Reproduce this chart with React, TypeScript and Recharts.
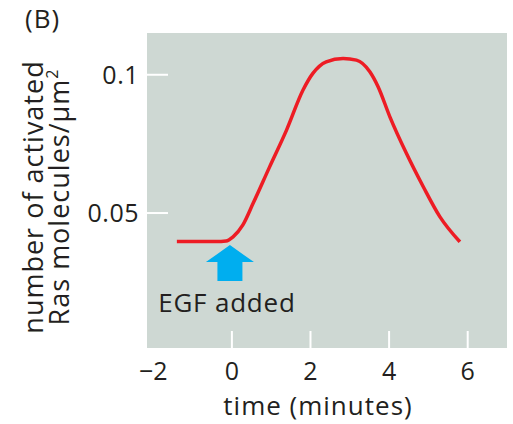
import React from 'react';
import { LineChart, Line, XAxis, YAxis, CartesianGrid, ReferenceDot, Label } from 'recharts';

const timeMinutes = [-1.4, -0.4, -0.15, 0.03, 0.28, 0.54, 0.96, 1.39, 1.81, 2.06, 2.4, 2.83, 3.17, 3.51, 3.72, 4.02, 4.44, 4.87, 5.29, 5.8];
const activatedRas = [0.0397, 0.0397, 0.0399, 0.0414, 0.0457, 0.0535, 0.0667, 0.08, 0.0945, 0.1005, 0.1047, 0.1059, 0.1053, 0.1011, 0.0957, 0.0848, 0.0716, 0.0595, 0.0487, 0.0396];
const xTicks = [-2, 0, 2, 4, 6];
const yTicks = [0.05, 0.1];
const xDomain = [-2.16, 7];
const yDomain = [0.0012, 0.1151];
const egfTime = -0.05;
const egfArrowTipValue = 0.0384;

const data = timeMinutes.map((t, i) => ({ t, v: activatedRas[i] }));

const FONT = '"Open Sans", "Noto Sans", sans-serif';
const TEXT = '#231f20';

const XTick = (props: any) => {
  const { x, y, payload } = props;
  const v = payload.value;
  return (
    <g>
      {v >= 0 && <line x1={x} x2={x} y1={y} y2={y - 17} stroke="#ffffff" strokeWidth={2} />}
      <text x={x} y={y + 32} textAnchor="middle" fontFamily={FONT} fontSize={25} fill={TEXT}>
        {v < 0 ? '\u2212' + Math.abs(v) : String(v)}
      </text>
    </g>
  );
};

const YTick = (props: any) => {
  const { x, y, payload } = props;
  return (
    <g>
      <line x1={x} x2={x + 21} y1={y} y2={y} stroke="#ffffff" strokeWidth={2} />
      <text x={x - 8} y={y + 9} textAnchor="end" fontFamily={FONT} fontSize={25} fill={TEXT} letterSpacing={0.5}>
        {String(payload.value)}
      </text>
    </g>
  );
};

const Arrow = (props: any) => {
  const { cx, cy } = props;
  const pts = [
    [cx, cy],
    [cx + 24, cy + 17],
    [cx + 12.5, cy + 17],
    [cx + 12.5, cy + 36],
    [cx - 12.5, cy + 36],
    [cx - 12.5, cy + 17],
    [cx - 24, cy + 17],
  ]
    .map((p) => p.join(','))
    .join(' ');
  return (
    <g>
      <polygon points={pts} fill="#00aeef" />
      <text x={cx - 3} y={cy + 67} textAnchor="middle" fontFamily={FONT} fontSize={26} fill={TEXT} letterSpacing={0.8}>
        EGF added
      </text>
    </g>
  );
};

export default function App() {
  return (
    <div style={{ position: 'absolute', left: 0, top: 0, background: '#fff' }}>
      <LineChart width={513} height={424} data={data} margin={{ top: 33, right: 6, left: 0, bottom: 0 }}>
        <CartesianGrid fill="#ced8d3" horizontal={false} vertical={false} stroke="none" />
        <text x={25} y={28} fontFamily={FONT} fontSize={26} fill={TEXT} letterSpacing={1}>(B)</text>
        <XAxis
          dataKey="t"
          type="number"
          domain={xDomain}
          ticks={xTicks}
          allowDataOverflow
          height={76}
          axisLine={false}
          tickLine={false}
          tickSize={0}
          tickMargin={0}
          tick={<XTick />}
          interval={0}
        >
          <Label
            content={() => (
              <text x={318} y={415} textAnchor="middle" fontFamily={FONT} fontSize={26} fill={TEXT} letterSpacing={1}>
                time (minutes)
              </text>
            )}
          />
        </XAxis>
        <YAxis
          type="number"
          domain={yDomain}
          ticks={yTicks}
          allowDataOverflow
          width={147}
          axisLine={false}
          tickLine={false}
          tickSize={0}
          tickMargin={0}
          tick={<YTick />}
          interval={0}
        >
          <Label
            content={() => (
              <g>
                <text transform="translate(43,197) rotate(-90)" textAnchor="middle" fontFamily={FONT} fontSize={27} fill={TEXT} letterSpacing={1}>
                  number of activated
                </text>
                <text transform="translate(69,197) rotate(-90)" textAnchor="middle" fontFamily={FONT} fontSize={27} fill={TEXT} letterSpacing={1}>
                  Ras molecules/µm
                  <tspan fontSize={16} dy={-11}>2</tspan>
                </text>
              </g>
            )}
          />
        </YAxis>
        <Line
          type="monotone"
          dataKey="v"
          stroke="#ed1c24"
          strokeWidth={3.5}
          dot={false}
          isAnimationActive={false}
        />
        <ReferenceDot x={egfTime} y={egfArrowTipValue} r={0} shape={<Arrow />} ifOverflow="visible" />
      </LineChart>
    </div>
  );
}
